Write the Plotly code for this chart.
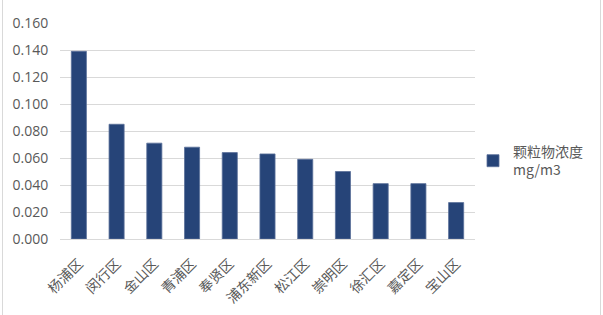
import plotly.graph_objects as go

districts = ["杨浦区", "闵行区", "金山区", "青浦区", "奉贤区", "浦东新区", "松江区", "崇明区", "徐汇区", "嘉定区", "宝山区"]
values = [0.139, 0.085, 0.071, 0.068, 0.064, 0.063, 0.059, 0.050, 0.041, 0.041, 0.027]
series_name = "颗粒物浓度<br>mg/m3"
tick_vals = [0, 0.02, 0.04, 0.06, 0.08, 0.10, 0.12, 0.14, 0.16]
tick_text = ["0.000", "0.020", "0.040", "0.060", "0.080", "0.100", "0.120", "0.140", "0.160"]

W, H = 603, 315
ml, mr, mt, mb = 60, 128, 23, 76

fig = go.Figure()
fig.add_trace(go.Bar(
    x=districts, y=values, name=series_name,
    marker=dict(color="#264478", line=dict(color="#5a7099", width=0.8)),
    showlegend=True,
))

pw = W - ml - mr
ph = H - mt - mb
fig.update_layout(
    width=W, height=H,
    margin=dict(l=ml, r=mr, t=mt, b=mb, pad=0, autoexpand=False),
    paper_bgcolor="white", plot_bgcolor="white",
    bargap=0.6,
    font=dict(family="Open Sans, Noto Sans CJK SC, sans-serif", size=13, color="#595959"),
    xaxis=dict(tickangle=-45, showgrid=False, showline=True, linecolor="#d9d9d9",
               linewidth=1, ticks="outside", ticklen=10, tickcolor="rgba(0,0,0,0)",
               tickfont=dict(size=14, family="Noto Sans CJK SC", color="#595959"),
               fixedrange=True),
    yaxis=dict(range=[0, 0.16], tickvals=tick_vals, ticktext=tick_text,
               showgrid=True, gridcolor="#d9d9d9", gridwidth=1, zeroline=False,
               showline=False, ticks="outside", ticklen=8, tickcolor="rgba(0,0,0,0)",
               tickfont=dict(size=14, color="#595959"), fixedrange=True),
    legend=dict(x=(473 - ml) / pw, y=(H - mb - 136) / ph, xanchor="left", yanchor="top",
                font=dict(size=14, family="Noto Sans CJK SC, Open Sans", color="#595959"),
                itemwidth=30, bgcolor="rgba(0,0,0,0)"),
    shapes=[
        dict(type="line", xref="paper", yref="paper",
             x0=(2.5 - ml) / pw, x1=(2.5 - ml) / pw, y0=-mb / ph, y1=(ph + mt) / ph,
             line=dict(color="#d9d9d9", width=1)),
        dict(type="line", xref="paper", yref="paper",
             x0=(600.5 - ml) / pw, x1=(600.5 - ml) / pw, y0=-mb / ph, y1=(ph + mt) / ph,
             line=dict(color="#d9d9d9", width=1)),
    ],
)

fig.write_html("out.html")
